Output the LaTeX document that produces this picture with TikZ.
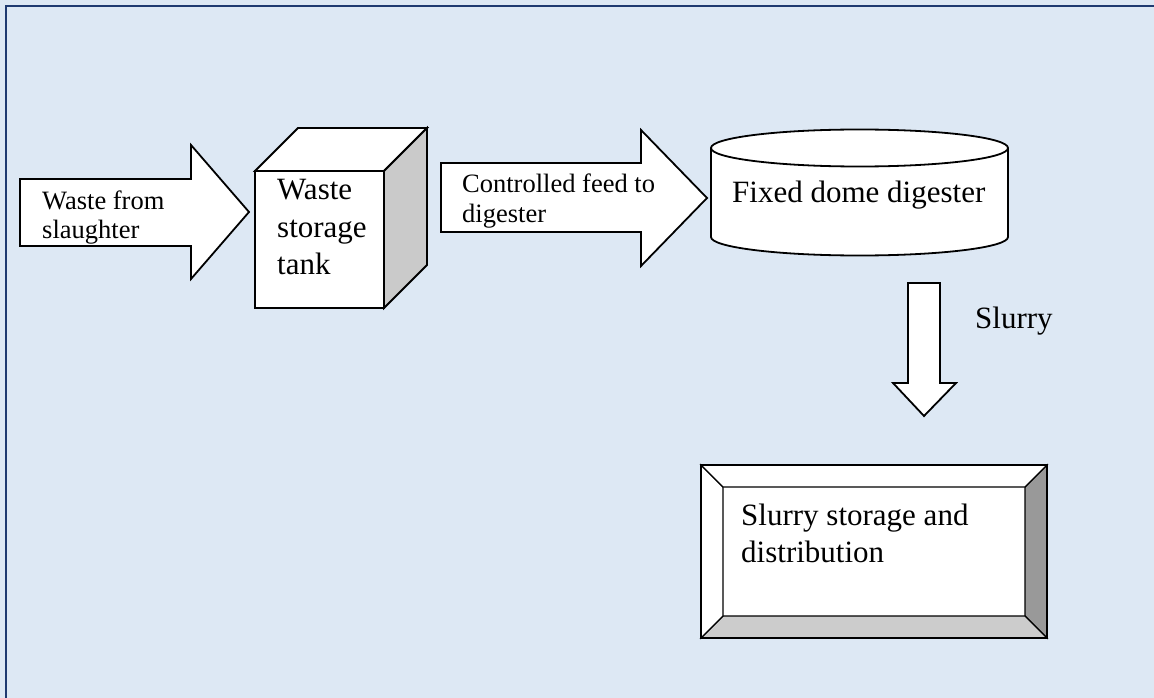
\documentclass[tikz,border=0pt]{standalone}
\usepackage{fontspec}
\setmainfont{Liberation Serif}
\definecolor{bgblue}{HTML}{DDE8F4}
\definecolor{framecol}{HTML}{1F3A70}
\definecolor{sidegray}{HTML}{CACACA}
\definecolor{darkgray}{HTML}{999999}
\definecolor{lightgray}{HTML}{CCCCCC}
\begin{document}
\begin{tikzpicture}[x=1pt,y=-1pt,
  blockshape/.style={draw=black,line width=1.8pt,line join=miter,fill=white},
  smalltext/.style={anchor=base west,inner sep=0pt,font=\fontsize{26.5}{30}\selectfont},
  bigtext/.style={anchor=base west,inner sep=0pt,font=\fontsize{31}{37}\selectfont}]
\useasboundingbox (0,0) rectangle (1154,698);
\fill[bgblue] (0,0) rectangle (1154,698);
\draw[framecol,line width=2.5pt] (6,720) -- (6,6) -- (1170,6);
% arrow 1
\draw[blockshape] (20,179) -- (191,179) -- (191,145) -- (249,212) -- (191,279) -- (191,246) -- (20,246) -- cycle;
\node[smalltext] (t1) at (42,209) {\vtop{\baselineskip=29.5pt\hbox{Waste from}\hbox{slaughter}}};
% cube
\draw[blockshape] (255,171) rectangle (384,308);
\draw[blockshape] (255,171) -- (298,128) -- (427,128) -- (384,171) -- cycle;
\draw[blockshape,fill=sidegray] (384,171) -- (427,128) -- (427,265) -- (384,308) -- cycle;
\node[bigtext] (t2) at (277,200) {\vtop{\baselineskip=37pt\hbox{Waste}\hbox{storage}\hbox{tank}}};
% arrow 2
\draw[blockshape] (441,163) -- (641,163) -- (641,130) -- (707,198) -- (641,266) -- (641,232) -- (441,232) -- cycle;
\node[smalltext] (t3) at (462,193) {\vtop{\baselineskip=30pt\hbox{Controlled feed to}\hbox{digester}}};
% cylinder
\draw[blockshape] (711,148) -- (711,237) arc[start angle=180,end angle=0,x radius=148.5,y radius=18.5] -- (1008,148);
\draw[blockshape] (859.5,148) ellipse[x radius=148.5,y radius=18.5];
\node[bigtext] (t4) at (732,202) {Fixed dome digester};
% down arrow
\draw[blockshape] (908,283) -- (940,283) -- (940,383) -- (956,383) -- (924,416) -- (893,383) -- (908,383) -- cycle;
\node[bigtext] (t5) at (975,328) {Slurry};
% bevel box
\draw[blockshape] (701,465) rectangle (1047,638);
\draw[blockshape,line width=1.2pt,fill=darkgray] (1047,465) -- (1025,487) -- (1025,616) -- (1047,638) -- cycle;
\draw[blockshape,line width=1.2pt,fill=lightgray] (701,638) -- (723,616) -- (1025,616) -- (1047,638) -- cycle;
\draw[blockshape,line width=1.2pt] (701,465) -- (723,487) -- (723,616) -- (701,638) -- cycle;
\draw[blockshape,line width=1.2pt] (701,465) -- (723,487) -- (1025,487) -- (1047,465) -- cycle;
\draw[draw=black,line width=1.8pt] (701,465) rectangle (1047,638);
\node[bigtext] (t6) at (741,525) {\vtop{\baselineskip=37pt\hbox{Slurry storage and}\hbox{distribution}}};
\end{tikzpicture}
\end{document}
